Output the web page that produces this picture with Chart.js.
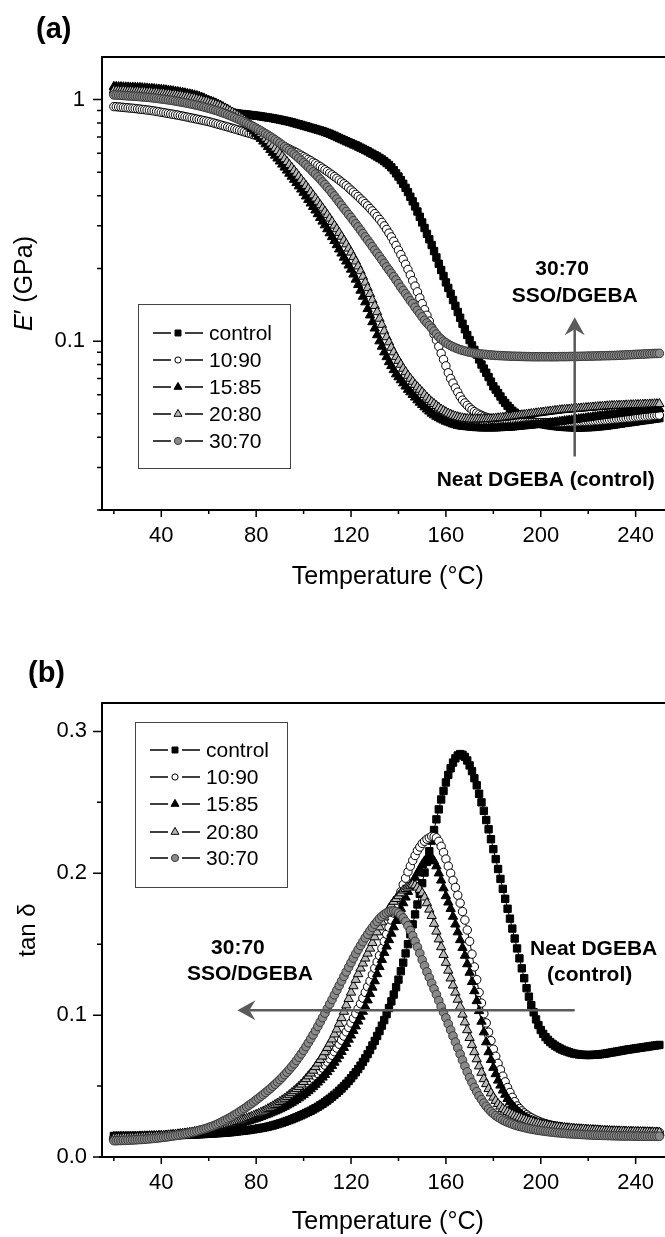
<!DOCTYPE html>
<html>
<head>
<meta charset="utf-8">
<script src="https://cdn.jsdelivr.net/npm/chart.js@4.4.1/dist/chart.umd.min.js"></script>
<style>
  html, body { margin: 0; padding: 0; background: #fff; overflow: hidden; }
  body { width: 665px; height: 1237px; }
  canvas { display: block; }
</style>
</head>
<body>
<canvas id="chartA" width="680" height="620"></canvas>
<canvas id="chartB" width="680" height="617"></canvas>
<script>
const FONT = "'Liberation Sans', Arial, Helvetica, sans-serif";

const seriesNames = ['control', '10:90', '15:85', '20:80', '30:70'];

// temperature (°C), shared by every series
const temps = [
  20, 21, 22, 23, 24, 25, 26, 27, 28, 29,
  30, 31, 32, 33, 34, 35, 36, 37, 38, 39,
  40, 41, 42, 43, 44, 45, 46, 47, 48, 49,
  50, 51, 52, 53, 54, 55, 56, 57, 58, 59,
  60, 61, 62, 63, 64, 65, 66, 67, 68, 69,
  70, 71, 72, 73, 74, 75, 76, 77, 78, 79,
  80, 81, 82, 83, 84, 85, 86, 87, 88, 89,
  90, 91, 92, 93, 94, 95, 96, 97, 98, 99,
  100, 101, 102, 103, 104, 105, 106, 107, 108, 109,
  110, 111, 112, 113, 114, 115, 116, 117, 118, 119,
  120, 121, 122, 123, 124, 125, 126, 127, 128, 129,
  130, 131, 132, 133, 134, 135, 136, 137, 138, 139,
  140, 141, 142, 143, 144, 145, 146, 147, 148, 149,
  150, 151, 152, 153, 154, 155, 156, 157, 158, 159,
  160, 161, 162, 163, 164, 165, 166, 167, 168, 169,
  170, 171, 172, 173, 174, 175, 176, 177, 178, 179,
  180, 181, 182, 183, 184, 185, 186, 187, 188, 189,
  190, 191, 192, 193, 194, 195, 196, 197, 198, 199,
  200, 201, 202, 203, 204, 205, 206, 207, 208, 209,
  210, 211, 212, 213, 214, 215, 216, 217, 218, 219,
  220, 221, 222, 223, 224, 225, 226, 227, 228, 229,
  230, 231, 232, 233, 234, 235, 236, 237, 238, 239,
  240, 241, 242, 243, 244, 245, 246, 247, 248, 249,
  250
];

// (a) storage modulus E' (GPa)
const eControl = [
  1.08, 1.079, 1.077, 1.076, 1.074, 1.072, 1.07, 1.068, 1.066, 1.064,
  1.062, 1.06, 1.057, 1.055, 1.052, 1.049, 1.046, 1.043, 1.04, 1.037,
  1.033, 1.029, 1.025, 1.021, 1.017, 1.013, 1.008, 1.003, 0.998, 0.993,
  0.988, 0.983, 0.977, 0.972, 0.966, 0.96, 0.954, 0.948, 0.942, 0.936,
  0.93, 0.924, 0.918, 0.912, 0.907, 0.902, 0.897, 0.893, 0.889, 0.885,
  0.882, 0.879, 0.876, 0.873, 0.871, 0.869, 0.867, 0.865, 0.862, 0.86,
  0.857, 0.855, 0.852, 0.849, 0.846, 0.843, 0.84, 0.837, 0.833, 0.83,
  0.826, 0.822, 0.818, 0.814, 0.81, 0.805, 0.80, 0.795, 0.79, 0.785,
  0.78, 0.775, 0.77, 0.765, 0.76, 0.755, 0.75, 0.745, 0.74, 0.734,
  0.728, 0.722, 0.715, 0.708, 0.70, 0.693, 0.686, 0.679, 0.672, 0.665,
  0.659, 0.652, 0.646, 0.639, 0.632, 0.625, 0.618, 0.611, 0.603, 0.596,
  0.588, 0.581, 0.573, 0.565, 0.556, 0.546, 0.536, 0.524, 0.51, 0.495,
  0.48, 0.464, 0.448, 0.431, 0.414, 0.396, 0.379, 0.361, 0.344, 0.327,
  0.31, 0.294, 0.278, 0.264, 0.25, 0.236, 0.222, 0.209, 0.197, 0.186,
  0.175, 0.166, 0.157, 0.148, 0.14, 0.132, 0.125, 0.118, 0.112, 0.106,
  0.101, 0.096, 0.092, 0.088, 0.084, 0.08, 0.077, 0.074, 0.071, 0.068,
  0.065, 0.063, 0.061, 0.059, 0.057, 0.0555, 0.054, 0.0527, 0.0515, 0.0506,
  0.0498, 0.0491, 0.0485, 0.048, 0.0475, 0.0471, 0.0467, 0.0463, 0.046, 0.0457,
  0.0455, 0.0453, 0.0451, 0.0449, 0.0448, 0.0446, 0.0445, 0.0444, 0.0443, 0.0442,
  0.0441, 0.0441, 0.044, 0.044, 0.0439, 0.0439, 0.0439, 0.0439, 0.044, 0.044,
  0.044, 0.0441, 0.0441, 0.0442, 0.0443, 0.0444, 0.0445, 0.0446, 0.0447, 0.0449,
  0.045, 0.0452, 0.0453, 0.0455, 0.0456, 0.0458, 0.0459, 0.0461, 0.0462, 0.0464,
  0.0465, 0.0467, 0.0468, 0.047, 0.0471, 0.0473, 0.0474, 0.0476, 0.0477, 0.0479,
  0.048
];
const e1090 = [
  0.935, 0.934, 0.932, 0.93, 0.928, 0.926, 0.924, 0.922, 0.92, 0.918,
  0.915, 0.913, 0.91, 0.908, 0.905, 0.903, 0.9, 0.897, 0.893, 0.89,
  0.886, 0.883, 0.879, 0.876, 0.872, 0.869, 0.865, 0.862, 0.858, 0.854,
  0.85, 0.846, 0.842, 0.838, 0.834, 0.83, 0.826, 0.822, 0.818, 0.814,
  0.81, 0.805, 0.80, 0.795, 0.79, 0.785, 0.78, 0.775, 0.77, 0.765,
  0.76, 0.755, 0.75, 0.745, 0.74, 0.735, 0.73, 0.725, 0.72, 0.715,
  0.71, 0.705, 0.70, 0.694, 0.688, 0.682, 0.676, 0.67, 0.664, 0.658,
  0.652, 0.645, 0.638, 0.631, 0.624, 0.617, 0.61, 0.603, 0.595, 0.588,
  0.58, 0.573, 0.565, 0.558, 0.55, 0.543, 0.535, 0.528, 0.52, 0.512,
  0.504, 0.496, 0.488, 0.48, 0.472, 0.464, 0.456, 0.448, 0.44, 0.431,
  0.422, 0.414, 0.405, 0.397, 0.388, 0.38, 0.371, 0.363, 0.354, 0.346,
  0.337, 0.328, 0.319, 0.31, 0.3, 0.29, 0.28, 0.27, 0.259, 0.249,
  0.238, 0.228, 0.218, 0.208, 0.198, 0.188, 0.178, 0.169, 0.16, 0.151,
  0.143, 0.135, 0.128, 0.121, 0.114, 0.107, 0.101, 0.095, 0.089, 0.084,
  0.079, 0.074, 0.07, 0.067, 0.064, 0.0615, 0.059, 0.057, 0.0555, 0.0542,
  0.053, 0.052, 0.0511, 0.0504, 0.0498, 0.0493, 0.0488, 0.0484, 0.048, 0.0477,
  0.0474, 0.0472, 0.047, 0.0468, 0.0467, 0.0466, 0.0465, 0.0464, 0.0463, 0.0462,
  0.0462, 0.0461, 0.0461, 0.046, 0.046, 0.046, 0.046, 0.046, 0.046, 0.046,
  0.046, 0.046, 0.046, 0.046, 0.046, 0.046, 0.046, 0.046, 0.046, 0.046,
  0.0461, 0.0461, 0.0462, 0.0462, 0.0463, 0.0463, 0.0464, 0.0464, 0.0465, 0.0465,
  0.0466, 0.0466, 0.0467, 0.0468, 0.0468, 0.0469, 0.047, 0.0471, 0.0472, 0.0473,
  0.0474, 0.0475, 0.0476, 0.0477, 0.0478, 0.0479, 0.048, 0.0481, 0.0482, 0.0483,
  0.0484, 0.0485, 0.0486, 0.0487, 0.0488, 0.0489, 0.049, 0.0491, 0.0492, 0.0493,
  0.0494
];
const e1585 = [
  1.13, 1.129, 1.128, 1.127, 1.126, 1.125, 1.124, 1.123, 1.122, 1.121,
  1.12, 1.119, 1.117, 1.115, 1.113, 1.111, 1.109, 1.107, 1.104, 1.102,
  1.1, 1.097, 1.094, 1.091, 1.087, 1.084, 1.08, 1.076, 1.072, 1.068,
  1.063, 1.058, 1.053, 1.048, 1.042, 1.036, 1.03, 1.021, 1.012, 1.001,
  0.99, 0.983, 0.975, 0.965, 0.955, 0.944, 0.932, 0.92, 0.907, 0.894,
  0.88, 0.866, 0.852, 0.837, 0.822, 0.806, 0.79, 0.774, 0.757, 0.74,
  0.723, 0.705, 0.688, 0.671, 0.654, 0.637, 0.62, 0.603, 0.587, 0.571,
  0.555, 0.539, 0.524, 0.509, 0.494, 0.48, 0.466, 0.452, 0.438, 0.425,
  0.412, 0.398, 0.385, 0.372, 0.36, 0.348, 0.336, 0.324, 0.313, 0.302,
  0.291, 0.28, 0.27, 0.26, 0.25, 0.24, 0.231, 0.222, 0.214, 0.206,
  0.198, 0.189, 0.18, 0.171, 0.162, 0.153, 0.145, 0.136, 0.128, 0.12,
  0.113, 0.106, 0.1, 0.095, 0.09, 0.086, 0.082, 0.079, 0.076, 0.073,
  0.071, 0.069, 0.067, 0.065, 0.063, 0.0615, 0.06, 0.0585, 0.057, 0.0557,
  0.0545, 0.0533, 0.0522, 0.0512, 0.0502, 0.0494, 0.0487, 0.0481, 0.0475, 0.047,
  0.0465, 0.0461, 0.0457, 0.0453, 0.045, 0.0447, 0.0445, 0.0443, 0.0442, 0.0441,
  0.044, 0.0439, 0.0438, 0.0437, 0.0437, 0.0436, 0.0436, 0.0436, 0.0436, 0.0436,
  0.0436, 0.0436, 0.0437, 0.0437, 0.0438, 0.0438, 0.0439, 0.0439, 0.044, 0.0441,
  0.0442, 0.0443, 0.0444, 0.0445, 0.0446, 0.0447, 0.0448, 0.0449, 0.045, 0.0451,
  0.0452, 0.0453, 0.0455, 0.0456, 0.0458, 0.0459, 0.0461, 0.0462, 0.0464, 0.0465,
  0.0467, 0.0468, 0.047, 0.0471, 0.0473, 0.0474, 0.0476, 0.0477, 0.0479, 0.048,
  0.0482, 0.0483, 0.0485, 0.0486, 0.0488, 0.0489, 0.0491, 0.0492, 0.0494, 0.0495,
  0.0497, 0.0498, 0.05, 0.0501, 0.0503, 0.0504, 0.0506, 0.0507, 0.0509, 0.051,
  0.0512, 0.0513, 0.0515, 0.0516, 0.0518, 0.0519, 0.052, 0.0521, 0.0522, 0.0523,
  0.0525
];
const e2080 = [
  1.09, 1.089, 1.088, 1.087, 1.086, 1.085, 1.084, 1.083, 1.082, 1.081,
  1.08, 1.079, 1.077, 1.076, 1.074, 1.072, 1.07, 1.068, 1.066, 1.064,
  1.062, 1.06, 1.057, 1.054, 1.051, 1.048, 1.045, 1.042, 1.038, 1.034,
  1.03, 1.026, 1.021, 1.016, 1.011, 1.006, 1.0, 0.994, 0.988, 0.982,
  0.975, 0.968, 0.961, 0.953, 0.945, 0.936, 0.927, 0.917, 0.907, 0.896,
  0.885, 0.873, 0.861, 0.848, 0.835, 0.822, 0.808, 0.794, 0.78, 0.766,
  0.751, 0.736, 0.721, 0.706, 0.69, 0.675, 0.659, 0.644, 0.628, 0.613,
  0.597, 0.582, 0.567, 0.552, 0.537, 0.522, 0.508, 0.494, 0.48, 0.466,
  0.453, 0.44, 0.427, 0.414, 0.402, 0.39, 0.378, 0.366, 0.355, 0.344,
  0.333, 0.322, 0.312, 0.301, 0.291, 0.281, 0.271, 0.261, 0.252, 0.242,
  0.233, 0.223, 0.214, 0.204, 0.195, 0.185, 0.175, 0.166, 0.157, 0.148,
  0.14, 0.132, 0.124, 0.117, 0.11, 0.104, 0.099, 0.094, 0.09, 0.086,
  0.083, 0.08, 0.077, 0.0745, 0.072, 0.07, 0.068, 0.066, 0.0645, 0.063,
  0.0615, 0.06, 0.0585, 0.0572, 0.056, 0.055, 0.054, 0.0531, 0.0522, 0.0515,
  0.0508, 0.0502, 0.0497, 0.0492, 0.0488, 0.0485, 0.0482, 0.048, 0.0478, 0.0477,
  0.0476, 0.0475, 0.0475, 0.0475, 0.0475, 0.0475, 0.0476, 0.0476, 0.0477, 0.0477,
  0.0478, 0.0479, 0.048, 0.0481, 0.0482, 0.0483, 0.0485, 0.0486, 0.0488, 0.0489,
  0.0491, 0.0492, 0.0494, 0.0495, 0.0497, 0.0498, 0.05, 0.0501, 0.0503, 0.0504,
  0.0506, 0.0507, 0.0509, 0.051, 0.0512, 0.0513, 0.0515, 0.0516, 0.0518, 0.0519,
  0.052, 0.0521, 0.0522, 0.0523, 0.0524, 0.0525, 0.0526, 0.0527, 0.0528, 0.0529,
  0.053, 0.0531, 0.0532, 0.0533, 0.0534, 0.0535, 0.0536, 0.0537, 0.0538, 0.0539,
  0.054, 0.054, 0.0541, 0.0541, 0.0542, 0.0542, 0.0543, 0.0543, 0.0544, 0.0544,
  0.0545, 0.0545, 0.0546, 0.0546, 0.0547, 0.0547, 0.0548, 0.0548, 0.0549, 0.0549,
  0.055
];
const e3070 = [
  1.045, 1.044, 1.042, 1.041, 1.039, 1.038, 1.036, 1.035, 1.033, 1.032,
  1.03, 1.028, 1.026, 1.024, 1.022, 1.02, 1.017, 1.015, 1.012, 1.009,
  1.006, 1.003, 1.0, 0.997, 0.993, 0.99, 0.986, 0.982, 0.978, 0.974,
  0.97, 0.966, 0.961, 0.957, 0.952, 0.947, 0.942, 0.937, 0.931, 0.926,
  0.92, 0.914, 0.908, 0.902, 0.895, 0.888, 0.881, 0.874, 0.866, 0.858,
  0.85, 0.842, 0.833, 0.825, 0.816, 0.807, 0.798, 0.789, 0.78, 0.771,
  0.761, 0.752, 0.742, 0.732, 0.722, 0.712, 0.702, 0.692, 0.681, 0.671,
  0.66, 0.649, 0.638, 0.627, 0.616, 0.605, 0.594, 0.583, 0.571, 0.56,
  0.548, 0.537, 0.525, 0.514, 0.502, 0.491, 0.479, 0.468, 0.456, 0.445,
  0.433, 0.422, 0.41, 0.399, 0.387, 0.376, 0.365, 0.354, 0.344, 0.334,
  0.325, 0.315, 0.306, 0.297, 0.288, 0.279, 0.27, 0.262, 0.254, 0.246,
  0.238, 0.231, 0.224, 0.217, 0.21, 0.203, 0.197, 0.191, 0.185, 0.179,
  0.173, 0.167, 0.162, 0.157, 0.152, 0.147, 0.143, 0.138, 0.134, 0.13,
  0.126, 0.122, 0.119, 0.116, 0.113, 0.11, 0.107, 0.104, 0.102, 0.1,
  0.0985, 0.097, 0.0958, 0.0948, 0.0938, 0.093, 0.0922, 0.0916, 0.091, 0.0905,
  0.09, 0.0896, 0.0893, 0.089, 0.0887, 0.0884, 0.0882, 0.088, 0.0878, 0.0876,
  0.0875, 0.0873, 0.0872, 0.0871, 0.087, 0.0869, 0.0868, 0.0867, 0.0866, 0.0866,
  0.0865, 0.0865, 0.0864, 0.0864, 0.0863, 0.0863, 0.0862, 0.0862, 0.0862, 0.0862,
  0.0862, 0.0862, 0.0862, 0.0862, 0.0862, 0.0862, 0.0862, 0.0862, 0.0863, 0.0863,
  0.0863, 0.0863, 0.0864, 0.0864, 0.0864, 0.0864, 0.0865, 0.0865, 0.0866, 0.0866,
  0.0867, 0.0867, 0.0868, 0.0868, 0.0869, 0.0869, 0.087, 0.087, 0.0871, 0.0871,
  0.0872, 0.0872, 0.0873, 0.0874, 0.0875, 0.0876, 0.0877, 0.0878, 0.0879, 0.088,
  0.0881, 0.0882, 0.0883, 0.0884, 0.0885, 0.0886, 0.0887, 0.0888, 0.0889, 0.0889,
  0.089
];

// (b) tan delta
const tanControl = [
  0.0148, 0.0148, 0.0148, 0.0148, 0.0148, 0.0148, 0.0148, 0.0148, 0.0148, 0.0148,
  0.0148, 0.0148, 0.0149, 0.0149, 0.0149, 0.0149, 0.015, 0.015, 0.015, 0.015,
  0.0151, 0.0151, 0.0152, 0.0152, 0.0153, 0.0153, 0.0154, 0.0154, 0.0155, 0.0155,
  0.0156, 0.0156, 0.0157, 0.0157, 0.0158, 0.0159, 0.016, 0.0161, 0.0162, 0.0163,
  0.0164, 0.0165, 0.0166, 0.0167, 0.0168, 0.0169, 0.017, 0.0171, 0.0173, 0.0174,
  0.0176, 0.0178, 0.018, 0.0182, 0.0184, 0.0186, 0.0188, 0.019, 0.0193, 0.0195,
  0.0198, 0.0201, 0.0204, 0.0207, 0.021, 0.0214, 0.0218, 0.0222, 0.0227, 0.0232,
  0.0237, 0.0242, 0.0248, 0.0254, 0.026, 0.0266, 0.0273, 0.028, 0.0287, 0.0294,
  0.0302, 0.031, 0.0318, 0.0326, 0.0335, 0.0344, 0.0354, 0.0364, 0.0375, 0.0386,
  0.0398, 0.0411, 0.0424, 0.0438, 0.0452, 0.0467, 0.0483, 0.05, 0.0517, 0.0536,
  0.0555, 0.0576, 0.0597, 0.062, 0.0644, 0.067, 0.0696, 0.0725, 0.0754, 0.0786,
  0.0818, 0.0853, 0.0888, 0.0926, 0.0965, 0.1007, 0.105, 0.1097, 0.1145, 0.1197,
  0.125, 0.131, 0.137, 0.1435, 0.15, 0.157, 0.164, 0.171, 0.178, 0.1855,
  0.193, 0.2005, 0.208, 0.2155, 0.223, 0.2305, 0.238, 0.245, 0.252, 0.258,
  0.264, 0.2693, 0.274, 0.278, 0.281, 0.283, 0.284, 0.2835, 0.282, 0.2795,
  0.276, 0.272, 0.267, 0.262, 0.256, 0.25, 0.244, 0.2375, 0.231, 0.224,
  0.217, 0.21, 0.203, 0.196, 0.189, 0.182, 0.175, 0.168, 0.161, 0.154,
  0.147, 0.14, 0.133, 0.126, 0.119, 0.113, 0.107, 0.102, 0.097, 0.093,
  0.0895, 0.0868, 0.0845, 0.0826, 0.081, 0.0797, 0.0785, 0.0775, 0.0765, 0.0757,
  0.075, 0.0744, 0.0738, 0.0733, 0.0729, 0.0726, 0.0723, 0.0721, 0.072, 0.0719,
  0.0719, 0.0719, 0.072, 0.0721, 0.0722, 0.0724, 0.0726, 0.0728, 0.0731, 0.0734,
  0.0737, 0.074, 0.0743, 0.0746, 0.0749, 0.0752, 0.0755, 0.0758, 0.076, 0.0763,
  0.0765, 0.0768, 0.077, 0.0773, 0.0775, 0.0778, 0.078, 0.0783, 0.0785, 0.0788,
  0.079
];
const tan1090 = [
  0.0135, 0.0135, 0.0136, 0.0136, 0.0137, 0.0137, 0.0138, 0.0138, 0.0139, 0.0139,
  0.014, 0.0141, 0.0142, 0.0142, 0.0143, 0.0144, 0.0145, 0.0146, 0.0147, 0.0148,
  0.0149, 0.015, 0.0151, 0.0152, 0.0154, 0.0155, 0.0157, 0.0158, 0.016, 0.0161,
  0.0163, 0.0165, 0.0167, 0.0169, 0.0171, 0.0173, 0.0176, 0.0178, 0.0181, 0.0184,
  0.0187, 0.019, 0.0193, 0.0196, 0.02, 0.0204, 0.0208, 0.0212, 0.0217, 0.0222,
  0.0227, 0.0232, 0.0238, 0.0244, 0.025, 0.0256, 0.0263, 0.027, 0.0277, 0.0284,
  0.0291, 0.0298, 0.0306, 0.0314, 0.0322, 0.033, 0.0339, 0.0348, 0.0357, 0.0366,
  0.0376, 0.0386, 0.0396, 0.0406, 0.0417, 0.0428, 0.044, 0.0452, 0.0465, 0.0478,
  0.0492, 0.0506, 0.0521, 0.0537, 0.0553, 0.057, 0.0588, 0.0607, 0.0627, 0.0648,
  0.067, 0.0693, 0.0717, 0.0742, 0.0768, 0.0795, 0.0823, 0.0852, 0.0882, 0.0913,
  0.0945, 0.0977, 0.101, 0.1045, 0.108, 0.112, 0.116, 0.12, 0.124, 0.1285,
  0.133, 0.1375, 0.142, 0.147, 0.152, 0.157, 0.162, 0.167, 0.172, 0.177,
  0.182, 0.187, 0.192, 0.1965, 0.201, 0.205, 0.209, 0.2125, 0.216, 0.2185,
  0.221, 0.2225, 0.224, 0.225, 0.226, 0.2258, 0.225, 0.2225, 0.219, 0.2147,
  0.21, 0.205, 0.2, 0.195, 0.19, 0.1845, 0.179, 0.173, 0.167, 0.16,
  0.152, 0.143, 0.134, 0.125, 0.116, 0.1085, 0.101, 0.0945, 0.088, 0.082,
  0.076, 0.071, 0.066, 0.0615, 0.057, 0.053, 0.049, 0.0455, 0.042, 0.039,
  0.036, 0.0342, 0.0325, 0.0311, 0.0298, 0.0287, 0.0277, 0.0268, 0.026, 0.0253,
  0.0246, 0.024, 0.0235, 0.023, 0.0226, 0.0222, 0.0218, 0.0215, 0.0212, 0.0209,
  0.0207, 0.0205, 0.0203, 0.0201, 0.02, 0.0198, 0.0197, 0.0196, 0.0195, 0.0194,
  0.0193, 0.0192, 0.0191, 0.019, 0.0189, 0.0188, 0.0187, 0.0186, 0.0185, 0.0184,
  0.0183, 0.0183, 0.0182, 0.0182, 0.0181, 0.0181, 0.018, 0.018, 0.0179, 0.0179,
  0.0178, 0.0178, 0.0177, 0.0177, 0.0176, 0.0176, 0.0175, 0.0175, 0.0174, 0.0174,
  0.0173
];
const tan1585 = [
  0.0142, 0.0142, 0.0142, 0.0143, 0.0143, 0.0143, 0.0143, 0.0144, 0.0144, 0.0145,
  0.0145, 0.0146, 0.0146, 0.0147, 0.0147, 0.0148, 0.0148, 0.0149, 0.0149, 0.015,
  0.015, 0.0151, 0.0152, 0.0153, 0.0154, 0.0155, 0.0156, 0.0157, 0.0158, 0.016,
  0.0161, 0.0163, 0.0164, 0.0166, 0.0167, 0.0169, 0.0171, 0.0173, 0.0176, 0.0179,
  0.0182, 0.0185, 0.0188, 0.0191, 0.0195, 0.0199, 0.0203, 0.0207, 0.0212, 0.0216,
  0.0221, 0.0225, 0.023, 0.0235, 0.024, 0.0245, 0.025, 0.0255, 0.026, 0.0265,
  0.0271, 0.0277, 0.0283, 0.0289, 0.0296, 0.0302, 0.0309, 0.0316, 0.0323, 0.033,
  0.0338, 0.0346, 0.0355, 0.0364, 0.0373, 0.0383, 0.0393, 0.0404, 0.0415, 0.0427,
  0.0439, 0.0452, 0.0465, 0.0479, 0.0494, 0.051, 0.0526, 0.0543, 0.0561, 0.058,
  0.06, 0.0621, 0.0643, 0.0666, 0.069, 0.0715, 0.0742, 0.077, 0.0798, 0.0828,
  0.0858, 0.089, 0.0922, 0.0956, 0.099, 0.1025, 0.106, 0.1105, 0.115, 0.1195,
  0.124, 0.129, 0.134, 0.139, 0.144, 0.1485, 0.153, 0.1575, 0.162, 0.1665,
  0.171, 0.175, 0.179, 0.183, 0.187, 0.1905, 0.194, 0.197, 0.2, 0.203,
  0.206, 0.2085, 0.2105, 0.2115, 0.211, 0.2085, 0.205, 0.2, 0.195, 0.1895,
  0.184, 0.1795, 0.175, 0.1695, 0.164, 0.1585, 0.153, 0.1475, 0.142, 0.136,
  0.13, 0.1235, 0.117, 0.11, 0.103, 0.0955, 0.088, 0.081, 0.074, 0.0685,
  0.063, 0.0585, 0.054, 0.0505, 0.047, 0.044, 0.041, 0.0387, 0.0365, 0.0346,
  0.0328, 0.0313, 0.0298, 0.0286, 0.0275, 0.0266, 0.0257, 0.025, 0.0243, 0.0237,
  0.0232, 0.0228, 0.0224, 0.022, 0.0217, 0.0214, 0.0211, 0.0208, 0.0206, 0.0204,
  0.0202, 0.02, 0.0198, 0.0196, 0.0195, 0.0193, 0.0192, 0.0191, 0.019, 0.0189,
  0.0188, 0.0187, 0.0186, 0.0185, 0.0184, 0.0183, 0.0182, 0.0181, 0.0181, 0.018,
  0.018, 0.0179, 0.0179, 0.0178, 0.0178, 0.0177, 0.0177, 0.0176, 0.0176, 0.0175,
  0.0175, 0.0174, 0.0174, 0.0173, 0.0173, 0.0172, 0.0172, 0.0171, 0.0171, 0.0171,
  0.017
];
const tan2080 = [
  0.0132, 0.0132, 0.0133, 0.0133, 0.0134, 0.0134, 0.0135, 0.0135, 0.0136, 0.0137,
  0.0138, 0.0139, 0.014, 0.0141, 0.0142, 0.0143, 0.0144, 0.0145, 0.0146, 0.0147,
  0.0149, 0.015, 0.0152, 0.0153, 0.0155, 0.0157, 0.0159, 0.0161, 0.0163, 0.0165,
  0.0167, 0.0169, 0.0172, 0.0174, 0.0177, 0.018, 0.0183, 0.0186, 0.0189, 0.0192,
  0.0195, 0.0198, 0.0202, 0.0206, 0.021, 0.0214, 0.0219, 0.0223, 0.0228, 0.0233,
  0.0238, 0.0243, 0.0248, 0.0253, 0.0259, 0.0265, 0.0271, 0.0277, 0.0284, 0.0291,
  0.0298, 0.0305, 0.0313, 0.0321, 0.033, 0.0339, 0.0348, 0.0358, 0.0368, 0.0378,
  0.0389, 0.04, 0.0412, 0.0424, 0.0437, 0.0451, 0.0465, 0.048, 0.0495, 0.0512,
  0.053, 0.055, 0.057, 0.059, 0.061, 0.0635, 0.066, 0.0685, 0.071, 0.074,
  0.077, 0.08, 0.083, 0.0865, 0.09, 0.094, 0.098, 0.1025, 0.107, 0.1115,
  0.116, 0.1205, 0.125, 0.129, 0.133, 0.1365, 0.14, 0.1435, 0.147, 0.151,
  0.155, 0.1585, 0.162, 0.1655, 0.169, 0.172, 0.175, 0.1775, 0.18, 0.182,
  0.184, 0.186, 0.188, 0.189, 0.19, 0.191, 0.192, 0.1915, 0.19, 0.1885,
  0.186, 0.183, 0.179, 0.1745, 0.17, 0.1645, 0.159, 0.1535, 0.148, 0.1425,
  0.137, 0.1315, 0.126, 0.121, 0.116, 0.111, 0.106, 0.1005, 0.095, 0.0895,
  0.084, 0.079, 0.074, 0.069, 0.064, 0.0595, 0.055, 0.0515, 0.048, 0.045,
  0.042, 0.0397, 0.0375, 0.0357, 0.034, 0.0329, 0.0318, 0.0309, 0.03, 0.0292,
  0.0285, 0.0278, 0.0272, 0.0266, 0.026, 0.0255, 0.025, 0.0245, 0.024, 0.0236,
  0.0232, 0.0228, 0.0225, 0.0222, 0.0219, 0.0216, 0.0214, 0.0212, 0.021, 0.0208,
  0.0206, 0.0204, 0.0203, 0.0201, 0.02, 0.0198, 0.0197, 0.0196, 0.0195, 0.0194,
  0.0193, 0.0192, 0.0191, 0.019, 0.0189, 0.0188, 0.0187, 0.0186, 0.0185, 0.0184,
  0.0183, 0.0183, 0.0182, 0.0182, 0.0181, 0.0181, 0.018, 0.018, 0.0179, 0.0179,
  0.0178, 0.0178, 0.0177, 0.0177, 0.0176, 0.0176, 0.0175, 0.0175, 0.0174, 0.0174,
  0.0173
];
const tan3070 = [
  0.0115, 0.0115, 0.0116, 0.0116, 0.0117, 0.0117, 0.0118, 0.0119, 0.012, 0.0121,
  0.0122, 0.0123, 0.0124, 0.0125, 0.0127, 0.0128, 0.013, 0.0131, 0.0133, 0.0135,
  0.0137, 0.0139, 0.0141, 0.0143, 0.0146, 0.0148, 0.0151, 0.0154, 0.0157, 0.016,
  0.0163, 0.0166, 0.017, 0.0174, 0.0178, 0.0182, 0.0187, 0.0192, 0.0197, 0.0202,
  0.0208, 0.0214, 0.022, 0.0227, 0.0235, 0.0243, 0.0252, 0.026, 0.0269, 0.0278,
  0.0288, 0.0298, 0.0308, 0.0319, 0.033, 0.0341, 0.0353, 0.0365, 0.0377, 0.0389,
  0.0402, 0.0415, 0.0428, 0.0441, 0.0455, 0.0469, 0.0483, 0.0498, 0.0513, 0.0529,
  0.0545, 0.0562, 0.058, 0.0598, 0.0617, 0.0637, 0.0657, 0.068, 0.0703, 0.0727,
  0.0752, 0.0778, 0.0805, 0.0833, 0.0861, 0.089, 0.092, 0.0951, 0.0982, 0.1014,
  0.1046, 0.1078, 0.111, 0.1143, 0.1175, 0.1208, 0.124, 0.1273, 0.1305, 0.1338,
  0.137, 0.1402, 0.1433, 0.1462, 0.149, 0.1518, 0.1545, 0.157, 0.1595, 0.1618,
  0.164, 0.166, 0.168, 0.1696, 0.171, 0.1721, 0.173, 0.1734, 0.1735, 0.173,
  0.172, 0.1705, 0.1685, 0.166, 0.163, 0.1596, 0.156, 0.152, 0.148, 0.1436,
  0.139, 0.1348, 0.1305, 0.1265, 0.1225, 0.1185, 0.1145, 0.1103, 0.106, 0.102,
  0.098, 0.0938, 0.0895, 0.0853, 0.081, 0.0768, 0.0725, 0.0683, 0.064, 0.06,
  0.056, 0.0525, 0.049, 0.046, 0.043, 0.0405, 0.038, 0.0358, 0.0338, 0.032,
  0.0305, 0.0292, 0.028, 0.027, 0.026, 0.0252, 0.0245, 0.0238, 0.0232, 0.0226,
  0.0221, 0.0216, 0.0212, 0.0208, 0.0204, 0.02, 0.0197, 0.0194, 0.0191, 0.0188,
  0.0186, 0.0183, 0.0181, 0.0179, 0.0177, 0.0175, 0.0173, 0.0171, 0.017, 0.0168,
  0.0167, 0.0165, 0.0164, 0.0163, 0.0162, 0.0161, 0.016, 0.0159, 0.0158, 0.0157,
  0.0156, 0.0155, 0.0154, 0.0154, 0.0153, 0.0153, 0.0152, 0.0152, 0.0151, 0.0151,
  0.015, 0.015, 0.0149, 0.0149, 0.0148, 0.0148, 0.0148, 0.0148, 0.0148, 0.0147,
  0.0147, 0.0147, 0.0146, 0.0146, 0.0146, 0.0146, 0.0146, 0.0146, 0.0146, 0.0146,
  0.0146
];

const modulusSeries = [eControl, e1090, e1585, e2080, e3070];
const tanSeries = [tanControl, tan1090, tan1585, tan2080, tan3070];

// tick positions
const tempTicks = [20, 40, 60, 80, 100, 120, 140, 160, 180, 200, 220, 240];
const modulusTicks = [0.02, 0.03, 0.04, 0.05, 0.06, 0.07, 0.08, 0.09, 0.1,
                      0.2, 0.3, 0.4, 0.5, 0.6, 0.7, 0.8, 0.9, 1];
const tanTicks = [0, 0.05, 0.1, 0.15, 0.2, 0.25, 0.3];

// marker look per series (same order as seriesNames)
const markers = [
  { style: 'rect',     r: 5.2, fill: '#000000', edge: '#000000', lr: 4.2 },
  { style: 'circle',   r: 4.2, fill: '#ffffff', edge: '#000000', lr: 3.1 },
  { style: 'triangle', r: 5.4, fill: '#000000', edge: '#000000', lr: 4.6 },
  { style: 'triangle', r: 5.4, fill: '#b8b8b8', edge: '#000000', lr: 4.6 },
  { style: 'circle',   r: 4.3, fill: '#8a8a8a', edge: '#383838', lr: 3.6 }
];

function makeDatasets(series) {
  return series.map((vals, i) => ({
    label: seriesNames[i],
    data: temps.map((t, j) => ({ x: t, y: vals[j] })),
    borderColor: '#000',
    borderWidth: 1,
    pointStyle: markers[i].style,
    pointRadius: markers[i].r,
    pointBackgroundColor: markers[i].fill,
    pointBorderColor: markers[i].edge,
    pointBorderWidth: 1,
    order: seriesNames.length - 1 - i
  }));
}

function drawMarker(ctx, m, x, y, r) {
  ctx.fillStyle = m.fill;
  ctx.strokeStyle = m.edge;
  ctx.lineWidth = 1;
  if (Chart.helpers && Chart.helpers.drawPoint) {
    Chart.helpers.drawPoint(ctx, { pointStyle: m.style, radius: r, rotation: 0, borderWidth: 1 }, x, y);
    return;
  }
  ctx.beginPath();
  ctx.arc(x, y, r, 0, Math.PI * 2);
  ctx.fill();
  ctx.stroke();
}

function drawArrow(ctx, x1, y1, x2, y2) {
  const len = Math.hypot(x2 - x1, y2 - y1);
  const ux = (x2 - x1) / len, uy = (y2 - y1) / len;
  const nx = -uy, ny = ux;
  ctx.strokeStyle = '#5a5a5a';
  ctx.fillStyle = '#5a5a5a';
  ctx.lineWidth = 2.5;
  ctx.beginPath();
  ctx.moveTo(x1, y1);
  ctx.lineTo(x2 - ux * 12, y2 - uy * 12);
  ctx.stroke();
  ctx.beginPath();
  ctx.moveTo(x2, y2);
  ctx.lineTo(x2 - ux * 18 + nx * 10, y2 - uy * 18 + ny * 10);
  ctx.lineTo(x2 - ux * 12, y2 - uy * 12);
  ctx.lineTo(x2 - ux * 18 - nx * 10, y2 - uy * 18 - ny * 10);
  ctx.closePath();
  ctx.fill();
}

// axes, ticks, inset legend, panel letter, y title and notes
function decorations(cfg) {
  return {
    id: 'decor',
    afterDatasetsDraw(chart) {
      const { ctx, chartArea: a } = chart;
      const xs = chart.scales.x, ys = chart.scales.y;
      ctx.save();

      ctx.strokeStyle = '#000';
      ctx.lineWidth = 2;
      ctx.beginPath();
      ctx.moveTo(a.left - 3, a.bottom);
      ctx.lineTo(a.right, a.bottom);
      ctx.moveTo(a.left, a.bottom);
      ctx.lineTo(a.left, a.top);
      ctx.lineTo(a.right, a.top);
      ctx.stroke();

      ctx.lineWidth = 1.5;
      ctx.beginPath();
      xs.ticks.forEach(t => {
        const px = xs.getPixelForValue(t.value);
        const len = t.value % 40 === 0 ? 7 : 4;
        ctx.moveTo(px, a.bottom);
        ctx.lineTo(px, a.bottom + len);
      });
      ys.ticks.forEach(t => {
        const py = ys.getPixelForValue(t.value);
        const len = cfg.yMajor(t.value) ? 9 : 5;
        ctx.moveTo(a.left, py);
        ctx.lineTo(a.left - len, py);
      });
      ctx.stroke();

      // legend box
      const lx = a.left + cfg.legend.dx, ly = a.top + cfg.legend.dy;
      ctx.strokeStyle = '#444';
      ctx.lineWidth = 1;
      ctx.strokeRect(Math.round(lx) + 0.5, Math.round(ly) + 0.5, 152, cfg.legend.h);
      ctx.font = '21px ' + FONT;
      ctx.textBaseline = 'middle';
      ctx.textAlign = 'left';
      seriesNames.forEach((name, i) => {
        const ry = ly + cfg.legend.rows[i];
        ctx.strokeStyle = '#000';
        ctx.lineWidth = 1.5;
        ctx.beginPath();
        ctx.moveTo(lx + 15, ry);
        ctx.lineTo(lx + 33, ry);
        ctx.moveTo(lx + 47, ry);
        ctx.lineTo(lx + 65, ry);
        ctx.stroke();
        drawMarker(ctx, markers[i], lx + 40, ry, markers[i].lr);
        ctx.fillStyle = '#000';
        ctx.fillText(name, lx + 71, ry + 1);
      });

      // panel letter
      ctx.fillStyle = '#000';
      ctx.font = 'bold 29px ' + FONT;
      ctx.textAlign = 'left';
      ctx.fillText(cfg.panel.text, cfg.panel.x, cfg.panel.y);

      // y axis title
      ctx.save();
      ctx.translate(cfg.yTitle.x, (a.top + a.bottom) / 2);
      ctx.rotate(-Math.PI / 2);
      let total = 0;
      cfg.yTitle.parts.forEach(p => { ctx.font = p.font; total += ctx.measureText(p.text).width; });
      let cx = -total / 2;
      ctx.textAlign = 'left';
      cfg.yTitle.parts.forEach(p => {
        ctx.font = p.font;
        ctx.fillText(p.text, cx, 0);
        cx += ctx.measureText(p.text).width;
      });
      ctx.restore();

      // notes and arrow, placed in data units
      ctx.font = 'bold 21px ' + FONT;
      ctx.textAlign = 'center';
      ctx.fillStyle = '#000';
      cfg.notes.forEach(n => {
        ctx.fillText(n.text, xs.getPixelForValue(n.x), ys.getPixelForValue(n.y));
      });
      const ar = cfg.arrow;
      drawArrow(ctx, xs.getPixelForValue(ar.x1), ys.getPixelForValue(ar.y1),
                xs.getPixelForValue(ar.x2), ys.getPixelForValue(ar.y2));
      ctx.restore();
    }
  };
}

function xScale(titlePad, axisHeight) {
  return {
    type: 'linear', min: 15, max: 256,
    grid: { display: false, drawTicks: false },
    border: { display: false },
    afterBuildTicks: s => { s.ticks = tempTicks.map(v => ({ value: v })); },
    afterFit: s => { s.height = axisHeight; },
    ticks: {
      autoSkip: false, maxRotation: 0, padding: 13, color: '#000',
      font: { family: FONT, size: 22 },
      callback: v => (v % 40 === 0 ? String(v) : '')
    },
    title: {
      display: true, text: 'Temperature (°C)', color: '#000',
      font: { family: FONT, size: 25 },
      padding: { top: 0, bottom: titlePad }
    }
  };
}

const isTenth = v => Math.abs(v * 10 - Math.round(v * 10)) < 1e-9;

new Chart(document.getElementById('chartA'), {
  type: 'line',
  data: { datasets: makeDatasets(modulusSeries) },
  options: {
    responsive: false, animation: false, events: [],
    layout: { padding: { top: 57, right: 6, left: 0, bottom: 0 } },
    plugins: { legend: { display: false }, tooltip: { enabled: false } },
    scales: {
      x: xScale(28, 110),
      y: {
        type: 'logarithmic', min: 0.02, max: 1.5,
        grid: { display: false, drawTicks: false },
        border: { display: false },
        afterBuildTicks: s => { s.ticks = modulusTicks.map(v => ({ value: v })); },
        afterFit: s => { s.width = 102; },
        ticks: {
          autoSkip: false, padding: 17, color: '#000',
          font: { family: FONT, size: 22 },
          callback: v => (v === 1 ? '1' : (Math.abs(v - 0.1) < 1e-9 ? '0.1' : ''))
        }
      }
    }
  },
  plugins: [decorations({
    yMajor: v => v === 1 || Math.abs(v - 0.1) < 1e-9,
    legend: { dx: 36, dy: 247, h: 164, rows: [29, 56, 83, 110, 137] },
    panel: { text: '(a)', x: 36, y: 30 },
    yTitle: { x: 25, parts: [
      { text: 'E', font: 'italic 25px ' + FONT },
      { text: '\u2032 (GPa)', font: '25px ' + FONT }
    ] },
    notes: [
      { text: '30:70', x: 209, y: 0.198 },
      { text: 'SSO/DGEBA', x: 214.3, y: 0.153 },
      { text: 'Neat DGEBA (control)', x: 202.1, y: 0.0265 }
    ],
    arrow: { x1: 214.3, y1: 0.0333, x2: 214.3, y2: 0.1256 }
  })]
});

new Chart(document.getElementById('chartB'), {
  type: 'line',
  data: { datasets: makeDatasets(tanSeries) },
  options: {
    responsive: false, animation: false, events: [],
    layout: { padding: { top: 83, right: 6, left: 0, bottom: 0 } },
    plugins: { legend: { display: false }, tooltip: { enabled: false } },
    scales: {
      x: xScale(0, 80),
      y: {
        type: 'linear', min: 0, max: 0.32,
        grid: { display: false, drawTicks: false },
        border: { display: false },
        afterBuildTicks: s => { s.ticks = tanTicks.map(v => ({ value: v })); },
        afterFit: s => { s.width = 102; },
        ticks: {
          autoSkip: false, padding: 15, color: '#000',
          font: { family: FONT, size: 22 },
          callback: v => (isTenth(v) ? v.toFixed(1) : '')
        }
      }
    }
  },
  plugins: [decorations({
    yMajor: isTenth,
    legend: { dx: 33, dy: 19, h: 165, rows: [28, 55, 82, 110, 136] },
    panel: { text: '(b)', x: 28, y: 54 },
    yTitle: { x: 28, parts: [{ text: 'tan \u03b4', font: '24px ' + FONT }] },
    notes: [
      { text: '30:70', x: 72.3, y: 0.147 },
      { text: 'SSO/DGEBA', x: 77.4, y: 0.1286 },
      { text: 'Neat DGEBA', x: 222.3, y: 0.1463 },
      { text: '(control)', x: 220.6, y: 0.128 }
    ],
    arrow: { x1: 214.3, y1: 0.1034, x2: 72.1, y2: 0.1034 }
  })]
});
</script>
</body>
</html>
